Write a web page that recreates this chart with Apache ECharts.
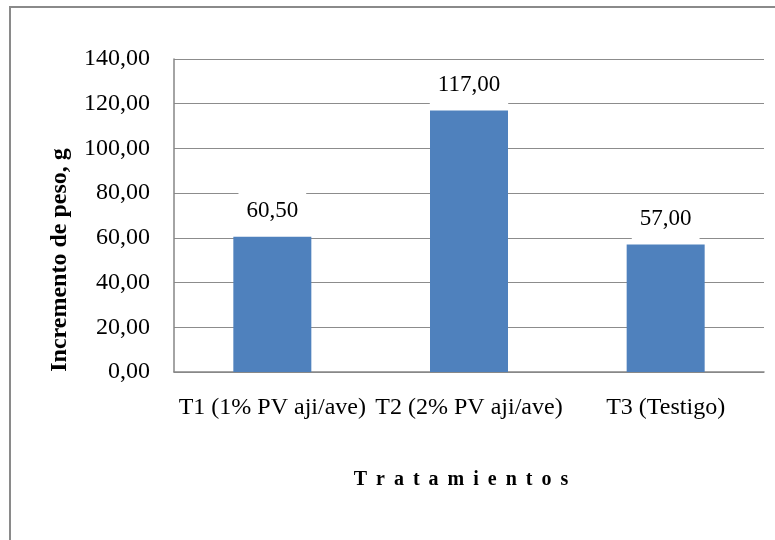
<!DOCTYPE html>
<html>
<head>
<meta charset="utf-8">
<script src="https://cdn.jsdelivr.net/npm/echarts@6/dist/echarts.min.js"></script>
<style>
html,body{margin:0;padding:0;background:#fff;}
#chart{width:775px;height:540px;}
</style>
</head>
<body>
<div id="chart"></div>
<script>
var categories = ['T1 (1% PV aji/ave)', 'T2 (2% PV aji/ave)', 'T3 (Testigo)'];
var values = [60.5, 117.0, 57.0];
var yTicks = [0, 20, 40, 60, 80, 100, 120, 140];
var yTitle = 'Incremento de peso, g';
var xTitle = 'T \u2009r \u2009a \u2009t \u2009a \u2009m \u2009i \u2009e \u2009n \u2009t \u2009o \u2009s';

var FONT = "'Liberation Serif', 'Times New Roman', serif";
function fmt(v) { return Number(v).toFixed(2).replace('.', ','); }

var chart = echarts.init(document.getElementById('chart'), null, {renderer: 'canvas'});
chart.setOption({
  backgroundColor: '#ffffff',
  animation: false,
  grid: {left: 174, right: 11, top: 59, bottom: 168, containLabel: false},
  xAxis: {
    type: 'category',
    data: categories,
    axisTick: {show: false},
    axisLine: {show: true, lineStyle: {color: '#868686', width: 1.5}},
    axisLabel: {interval: 0, margin: 24, fontFamily: FONT, fontSize: 24, color: '#000'},
    name: xTitle,
    nameLocation: 'middle',
    nameGap: 98,
    nameTextStyle: {fontFamily: FONT, fontSize: 20, fontWeight: 'bold', color: '#000', padding: [0, 16, 0, 0]}
  },
  yAxis: {
    type: 'value',
    min: yTicks[0],
    max: yTicks[yTicks.length - 1],
    interval: yTicks[1] - yTicks[0],
    axisTick: {show: false},
    axisLine: {show: true, lineStyle: {color: '#868686', width: 1.5}},
    axisLabel: {margin: 24, fontFamily: FONT, fontSize: 24, color: '#000', formatter: fmt},
    splitLine: {show: true, lineStyle: {color: '#8c8c8c', width: 1}}
  },
  series: [{
    type: 'bar',
    data: values,
    barWidth: 78,
    itemStyle: {color: '#4F81BD'},
    label: {
      show: true,
      position: 'top',
      distance: 5,
      formatter: function (p) { return fmt(p.value); },
      fontFamily: FONT,
      fontSize: 23,
      color: '#000',
      backgroundColor: '#ffffff',
      padding: [9, 8]
    }
  }],
  graphic: [
    {
      type: 'rect',
      shape: {x: 10, y: 7, width: 900, height: 700},
      style: {fill: 'none', stroke: '#8a8a8a', lineWidth: 2},
      silent: true,
      z: 100
    },
    {
      type: 'text',
      x: 60,
      y: 260,
      rotation: Math.PI / 2,
      style: {
        text: yTitle,
        fontFamily: FONT,
        fontSize: 24,
        fontWeight: 'bold',
        fill: '#000',
        textAlign: 'center',
        textVerticalAlign: 'middle'
      }
    }
  ]
});
</script>
</body>
</html>
